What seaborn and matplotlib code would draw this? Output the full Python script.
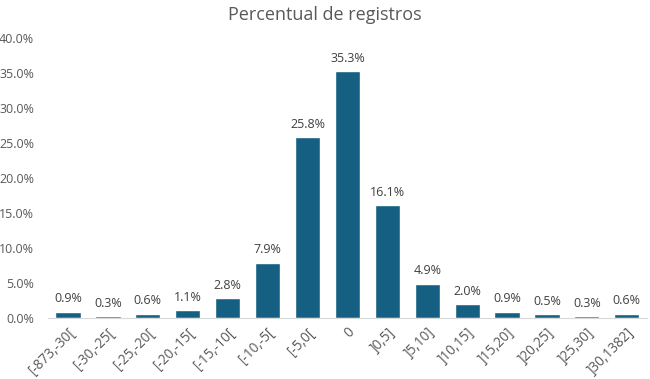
import matplotlib
matplotlib.use("Agg")
import matplotlib.pyplot as plt
import seaborn as sns
import pandas as pd
from matplotlib.ticker import PercentFormatter

categorias = ["[-873,-30[", "[-30,-25[", "[-25,-20[", "[-20,-15[", "[-15,-10[",
              "[-10,-5[", "[-5,0[", "0", "]0,5]", "]5,10]", "]10,15]",
              "]15,20]", "]20,25]", "]25,30]", "]30,1382]"]
percentuais = [0.9, 0.3, 0.6, 1.1, 2.8, 7.9, 25.8, 35.3, 16.1, 4.9, 2.0, 0.9, 0.5, 0.3, 0.6]

df = pd.DataFrame({"faixa": categorias, "pct": percentuais})

sns.set_style("white")
plt.rcParams["font.family"] = ["Open Sans", "DejaVu Sans"]
cinza = "#595959"

fig = plt.figure(figsize=(6.5, 3.79), dpi=100)
ax = fig.add_axes([0.074, 0.161, 0.921, 0.739])

sns.barplot(data=df, x="faixa", y="pct", color="#156082", width=0.63,
            saturation=1, ax=ax)

# rótulos de dados acima das barras
for i, v in enumerate(percentuais):
    ax.text(i, v + 0.9, f"{v:.1f}%", ha="center", va="bottom",
            fontsize=9, color="#404040")

ax.set_ylim(0, 40)
ax.set_yticks(range(0, 41, 5))
ax.yaxis.set_major_formatter(PercentFormatter(decimals=1))
ax.set_xlim(-0.5, len(categorias) - 0.5)
ax.set_xlabel("")
ax.set_ylabel("")
ax.tick_params(axis="y", labelsize=9, colors=cinza, length=0, pad=10)
ax.tick_params(axis="x", labelsize=9.8, colors=cinza, length=0, pad=5)
plt.setp(ax.get_xticklabels(), rotation=45, ha="right", rotation_mode="anchor")

for lado in ["top", "right", "left"]:
    ax.spines[lado].set_visible(False)
ax.spines["bottom"].set_color("#d9d9d9")

fig.suptitle("Percentual de registros", y=0.985, fontsize=13, color=cinza)
fig.savefig("out.png", dpi=100, facecolor="white")
